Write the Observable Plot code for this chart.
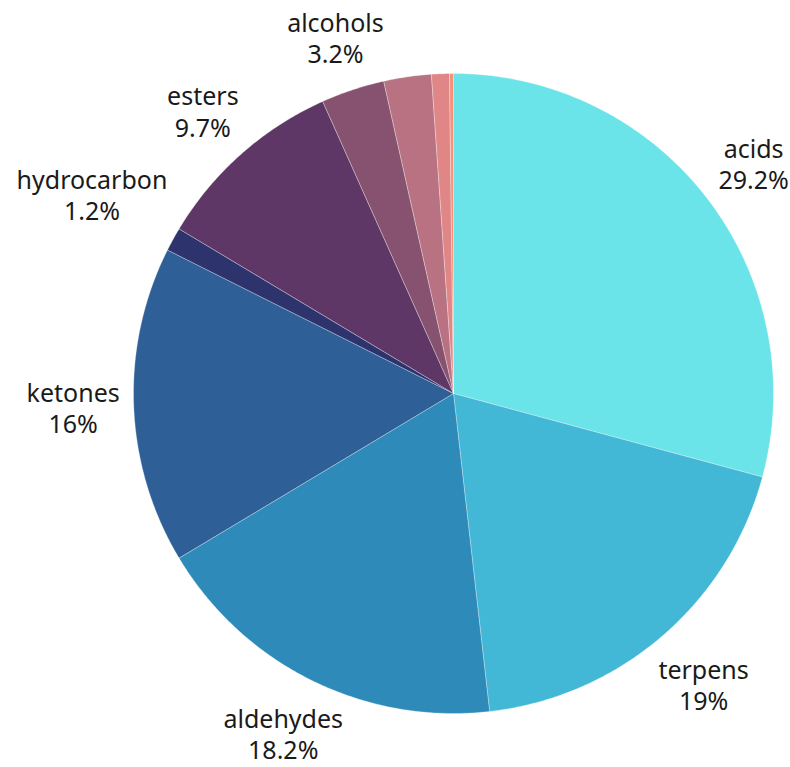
<!DOCTYPE html>
<html><head><meta charset="utf-8">
<script src="https://cdn.jsdelivr.net/npm/d3@7"></script>
<script src="https://cdn.jsdelivr.net/npm/@observablehq/plot@0.6"></script>
<style>html,body{margin:0;padding:0;background:#fff}</style>
</head><body><div id="chart"></div>
<script>
// ---- data ----
const categories = ["acids","terpens","aldehydes","ketones","hydrocarbon","esters","alcohols","other 1","other 2","other 3"];
const values = [29.2, 19, 18.2, 16, 1.2, 9.7, 3.2, 2.4, 0.9, 0.2];
const showLabel = [true, true, true, true, true, true, true, false, false, false];
const colors = ["#6ae4e8","#43b7d6","#2e8bb9","#2e5f97","#2d336d","#5e3766","#87526f","#b87282","#e08686","#f5937a"];

// ---- layout ----
const W = 790, H = 767, cx = 453, cy = 393, R = 320;
const FONT = "'Noto Sans', 'Open Sans', sans-serif", FS = 25, LH = 1.25;

const total = d3.sum(values);
let cum = 0;
const slices = categories.map((name, i) => {
  const a0 = cum / total * 2 * Math.PI; cum += values[i];
  const a1 = cum / total * 2 * Math.PI;
  return {name, value: values[i], a0, a1, show: showLabel[i]};
});

const poly = [];
for (const s of slices) {
  poly.push({name: s.name, x: 0, y: 0});
  const n = Math.max(2, Math.ceil((s.a1 - s.a0) / (Math.PI / 360)));
  for (let k = 0; k <= n; k++) {
    const a = s.a0 + (s.a1 - s.a0) * k / n;
    poly.push({name: s.name, x: Math.sin(a), y: Math.cos(a)});
  }
  poly.push({name: s.name, x: 0, y: 0});
}

const ctx = document.createElement("canvas").getContext("2d");
ctx.font = `${FS}px ${FONT}`;
const labels = slices.filter(s => s.show).map(s => {
  const a = (s.a0 + s.a1) / 2;
  const pct = `${s.value}%`;
  const hw = Math.max(ctx.measureText(s.name).width, ctx.measureText(pct).width) / 2;
  const hh = 28;
  const r = (R + 13 + Math.abs(Math.sin(a)) * hw + Math.abs(Math.cos(a)) * hh) / R;
  let x = r * Math.sin(a), y = r * Math.cos(a);
  // keep the two-line block inside the picture
  const minY = -(H - cy - hh - 6) / R;
  if (y < minY) y = minY;
  return {x, y, text: `${s.name}\n${pct}`};
});

const chart = Plot.plot({
  width: W, height: H, margin: 0,
  x: {domain: [-cx / R, (W - cx) / R], axis: null},
  y: {domain: [-(H - cy) / R, cy / R], axis: null},
  color: {domain: categories, range: colors},
  style: {fontFamily: FONT, background: "white"},
  marks: [
    Plot.line(poly, {x: "x", y: "y", z: "name", fill: "name", stroke: "white", strokeWidth: 0.6, strokeOpacity: 0.5, curve: "linear"}),
    Plot.text(labels, {x: "x", y: "y", text: "text", fontSize: FS, lineHeight: LH, fill: "#1a1a1a", textAnchor: "middle", lineAnchor: "middle"})
  ]
});
document.getElementById("chart").appendChild(chart);
</script>
</body></html>
